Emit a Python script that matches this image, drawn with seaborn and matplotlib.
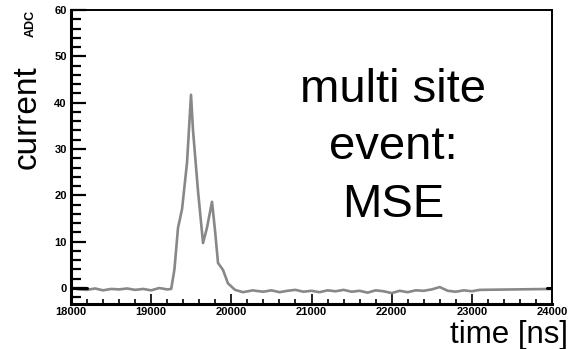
import matplotlib
matplotlib.use("Agg")
import matplotlib.pyplot as plt
import seaborn as sns
import pandas as pd
from matplotlib.ticker import MultipleLocator

# ---- data ----
pre_t = [18000, 18100, 18200, 18300, 18400, 18500, 18600, 18700, 18800, 18900, 19000, 19100, 19200]
pre_v = [0.0, -0.3, -0.4, -0.1, -0.5, -0.2, -0.3, -0.1, -0.4, -0.2, -0.5, 0.0, -0.3]

pulse_t = [19250, 19290, 19335, 19385, 19447, 19497, 19522, 19584, 19647, 19696,
           19759, 19796, 19834, 19896, 19958, 20046, 20145, 20270]
pulse_v = [-0.2, 4.0, 13.0, 17.0, 27.0, 41.7, 34.0, 21.0, 9.7, 13.0,
           18.6, 12.5, 5.4, 3.9, 1.0, -0.4, -0.9, -0.5]

post_t = list(range(20300, 23200, 100)) + [24000]
post_v = [-0.6, -0.8, -0.5, -0.9, -0.6, -0.4, -0.8, -0.6, -0.9, -0.5,
          -0.7, -0.4, -0.8, -0.6, -1.0, -0.5, -0.7, -1.1, -0.6, -0.9,
          -0.5, -0.6, -0.3, 0.2, -0.6, -0.8, -0.5, -0.7, -0.4, -0.2]

edge_left_t = [18000, 18200]
edge_left_v = [0.0, 0.0]
edge_right_t = [23940, 24000]
edge_right_v = [0.0, 0.0]

x_ticks = [18000, 19000, 20000, 21000, 22000, 23000, 24000]
y_ticks = [0, 10, 20, 30, 40, 50, 60]

df = pd.DataFrame({"time": pre_t + pulse_t + post_t,
                   "current": pre_v + pulse_v + post_v})

sns.set_style("white")
plt.rcParams["font.family"] = ["Liberation Sans", "DejaVu Sans"]
plt.rcParams["text.color"] = "black"
plt.rcParams["xtick.color"] = "black"
plt.rcParams["ytick.color"] = "black"
plt.rcParams["axes.labelcolor"] = "black"

fig = plt.figure(figsize=(5.69, 3.49), dpi=100)
ax = fig.add_axes([71 / 569, 1 - 304 / 349, (552 - 71) / 569, (304 - 10) / 349])

sns.lineplot(data=df, x="time", y="current", ax=ax, color="#888888", lw=1.9)
sns.lineplot(x=edge_left_t, y=edge_left_v, ax=ax, color="black", lw=2.2)
sns.lineplot(x=edge_right_t, y=edge_right_v, ax=ax, color="black", lw=2.2)

ax.set_xlim(18000, 24000)
ax.set_ylim(-3.45, 60)
ax.set_xlabel("")
ax.set_ylabel("")

ax.set_xticks(x_ticks)
ax.set_xticklabels([str(t) for t in x_ticks])
ax.set_yticks(y_ticks)
ax.set_yticklabels([str(t) for t in y_ticks])
ax.xaxis.set_minor_locator(MultipleLocator(200))
ax.yaxis.set_minor_locator(MultipleLocator(2))

ax.tick_params(axis="y", which="major", direction="in", length=11, width=1.6,
               labelsize=8, pad=3, left=True, colors="black")
ax.tick_params(axis="y", which="minor", direction="in", length=7, width=1.6, left=True,
               colors="black")
ax.tick_params(axis="x", which="major", direction="in", length=7, width=1.2,
               labelsize=8, pad=2, bottom=True, colors="black")
ax.tick_params(axis="x", which="minor", direction="in", length=3.5, width=1.2, bottom=True,
               colors="black")
for lab in ax.get_xticklabels() + ax.get_yticklabels():
    lab.set_fontweight("bold")

for side in ["left", "bottom"]:
    ax.spines[side].set_linewidth(2.2)
    ax.spines[side].set_color("black")
for side in ["top", "right"]:
    ax.spines[side].set_linewidth(1.4)
    ax.spines[side].set_color("black")
    ax.spines[side].set_visible(True)

# texts
fig.text(393.5 / 569, 1 - 102 / 349, "multi site", ha="center", va="baseline",
         fontsize=34, color="black")
fig.text(393.5 / 569, 1 - 159 / 349, "event:", ha="center", va="baseline",
         fontsize=34, color="black")
fig.text(393.5 / 569, 1 - 217 / 349, "MSE", ha="center", va="baseline",
         fontsize=34, color="black")

fig.text(27 / 569, 1 - 117 / 349, "current", rotation=90, ha="center", va="center",
         fontsize=24, color="black")
fig.text(31 / 569, 1 - 23 / 349, "ADC", rotation=90, ha="center", va="center",
         fontsize=9, fontweight="bold", color="black")
fig.text(568 / 569, 1 - 343 / 349, "time [ns]", ha="right", va="baseline",
         fontsize=22.5, color="black")

fig.savefig("out.png", dpi=100)
